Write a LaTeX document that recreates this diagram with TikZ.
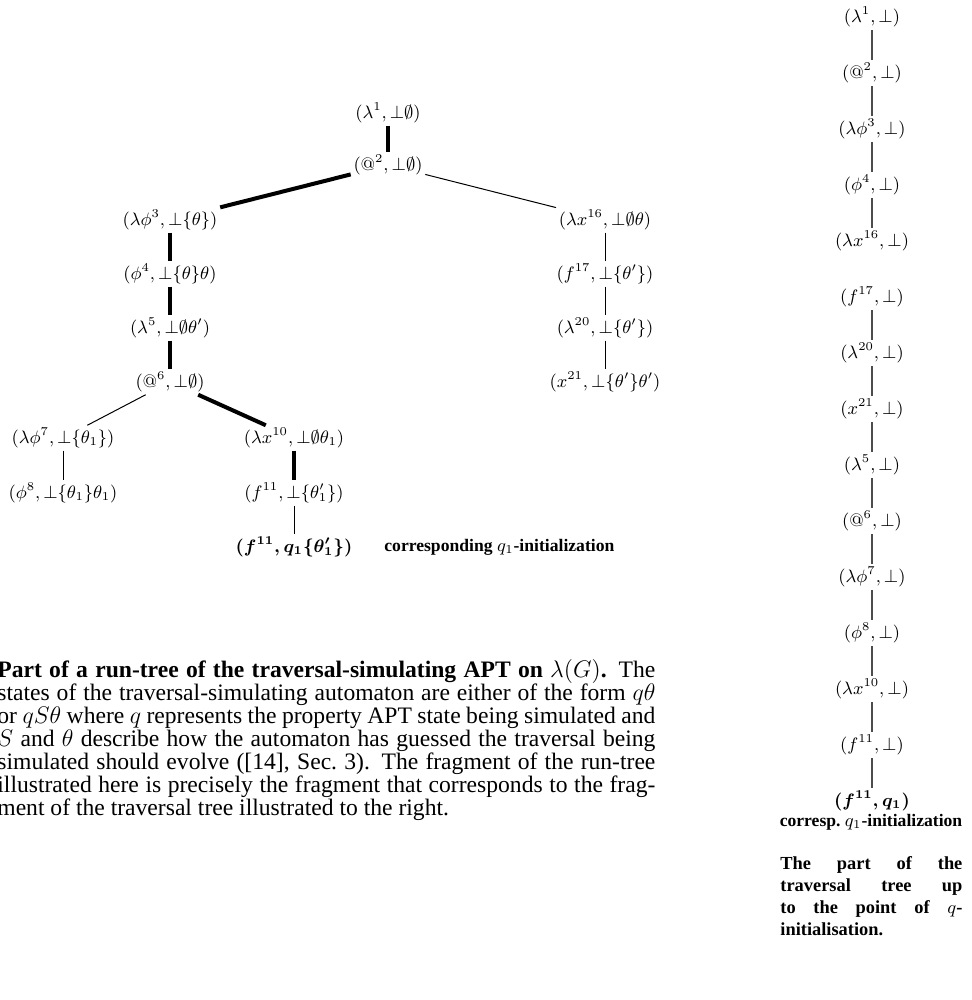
\documentclass[tikz,border=0pt]{standalone}
\usepackage[no-math]{fontspec}
\newfontfamily\tms{Liberation Serif}
\usepackage{amsmath}
\begin{document}
\begin{tikzpicture}[x=0.5pt,y=-0.5pt,
  nd/.style={inner sep=1.2pt, font=\fontsize{8.8}{10}\selectfont},
  rnd/.style={inner sep=1.5pt, font=\fontsize{9}{10}\selectfont},
  thk/.style={line width=2pt},
  thn/.style={line width=0.5pt},
  rl/.style={line width=0.6pt, black!70},
  lab/.style={inner sep=0pt, font=\tms\bfseries\fontsize{8.8}{10}\selectfont},
  rlab/.style={inner sep=0pt, font=\tms\bfseries\fontsize{8.8}{10}\selectfont}]
\useasboundingbox (0,0) rectangle (971,1000);
% left run-tree
\node[nd] (a1) at (388,113) {$(\lambda^1,\bot\emptyset)$};
\node[nd] (a2) at (388,165) {$(@^2,\bot\emptyset)$};
\node[nd] (a3) at (170,220) {$(\lambda\phi^3,\bot\{\theta\})$};
\node[nd] (a4) at (170,274) {$(\phi^4,\bot\{\theta\}\theta)$};
\node[nd] (a5) at (170,328) {$(\lambda^5,\bot\emptyset\theta')$};
\node[nd] (a6) at (170,382) {$(@^6,\bot\emptyset)$};
\node[nd] (a7) at (63,438) {$(\lambda\phi^7,\bot\{\theta_1\})$};
\node[nd] (a8) at (63,493) {$(\phi^8,\bot\{\theta_1\}\theta_1)$};
\node[nd] (a10) at (294,438) {$(\lambda x^{10},\bot\emptyset\theta_1)$};
\node[nd] (a11) at (294,493) {$(f^{11},\bot\{\theta'_1\})$};
\node[nd] (a12) at (294,547) {$\boldsymbol{(f^{11},q_1\{\theta'_1\})}$};
\node[lab, anchor=west] (lab1) at (384,547) {corresponding $q_1$-initialization};
\node[nd] (a16) at (605,220) {$(\lambda x^{16},\bot\emptyset\theta)$};
\node[nd] (a17) at (605,274) {$(f^{17},\bot\{\theta'\})$};
\node[nd] (a20) at (605,328) {$(\lambda^{20},\bot\{\theta'\})$};
\node[nd] (a21) at (605,382) {$(x^{21},\bot\{\theta'\}\theta')$};
\draw[thk] (a1) -- (a2);
\draw[thk] (a2) -- (a3);
\draw[thk] (a3) -- (a4);
\draw[thk] (a4) -- (a5);
\draw[thk] (a5) -- (a6);
\draw[thk] (a6) -- (a10);
\draw[thk] (a10) -- (a11);
\draw[thn] (a2) -- (a16);
\draw[thn] (a16) -- (a17);
\draw[thn] (a17) -- (a20);
\draw[thn] (a20) -- (a21);
\draw[thn] (a6) -- (a7);
\draw[thn] (a7) -- (a8);
\draw[thn] (a11) -- (a12);
% right traversal tree
\node[rnd] (r1) at (872,17) {$(\lambda^1,\bot)$};
\node[rnd] (r2) at (872,73) {$(@^2,\bot)$};
\node[rnd] (r3) at (872,129) {$(\lambda\phi^3,\bot)$};
\node[rnd] (r4) at (872,185) {$(\phi^4,\bot)$};
\node[rnd] (r16) at (872,241) {$(\lambda x^{16},\bot)$};
\node[rnd] (r17) at (872,297) {$(f^{17},\bot)$};
\node[rnd] (r20) at (872,353) {$(\lambda^{20},\bot)$};
\node[rnd] (r21) at (872,409) {$(x^{21},\bot)$};
\node[rnd] (r5) at (872,465) {$(\lambda^5,\bot)$};
\node[rnd] (r6) at (872,521) {$(@^6,\bot)$};
\node[rnd] (r7) at (872,577) {$(\lambda\phi^7,\bot)$};
\node[rnd] (r8) at (872,633) {$(\phi^8,\bot)$};
\node[rnd] (r10) at (872,689) {$(\lambda x^{10},\bot)$};
\node[rnd] (r11) at (872,745) {$(f^{11},\bot)$};
\node[rnd] (r12) at (872,801) {$\boldsymbol{(f^{11},q_1)}$};
\node[rlab] (lab2) at (871,822) {corresp.\ $q_1$-initialization};
\draw[rl] (r1) -- (r2);
\draw[rl] (r2) -- (r3);
\draw[rl] (r3) -- (r4);
\draw[rl] (r4) -- (r16);
\draw[rl] (r17) -- (r20);
\draw[rl] (r20) -- (r21);
\draw[rl] (r21) -- (r5);
\draw[rl] (r5) -- (r6);
\draw[rl] (r6) -- (r7);
\draw[rl] (r7) -- (r8);
\draw[rl] (r8) -- (r10);
\draw[rl] (r10) -- (r11);
\draw[rl] (r11) -- (r12);
% captions
\node[anchor=north west, inner sep=0pt, text width=329pt, align=justify,
  font=\tms\fontsize{11.8}{11.5}\selectfont] (cap1) at (-3,659)
  {\textbf{Part of a run-tree of the traversal-simulating APT on $\lambda(G)$.} The\linebreak
   states of the traversal-simulating automaton are either of the form $q\theta$\linebreak
   or $qS\theta$ where $q$ represents the property APT state being simulated and\linebreak
   $S$ and $\theta$ describe how the automaton has guessed the traversal being\linebreak
   simulated should evolve ([14], Sec.~3). The fragment of the run-tree\linebreak
   illustrated here is precisely the fragment that corresponds to the frag-\linebreak
   ment of the traversal tree illustrated to the right.};
\node[anchor=north west, inner sep=0pt, text width=91pt, align=justify,
  font=\tms\bfseries\fontsize{9.2}{11}\selectfont] (cap2) at (780,856)
  {The part of the\linebreak traversal tree up\linebreak to the point of $q$-\linebreak initialisation.};
\end{tikzpicture}
\end{document}
